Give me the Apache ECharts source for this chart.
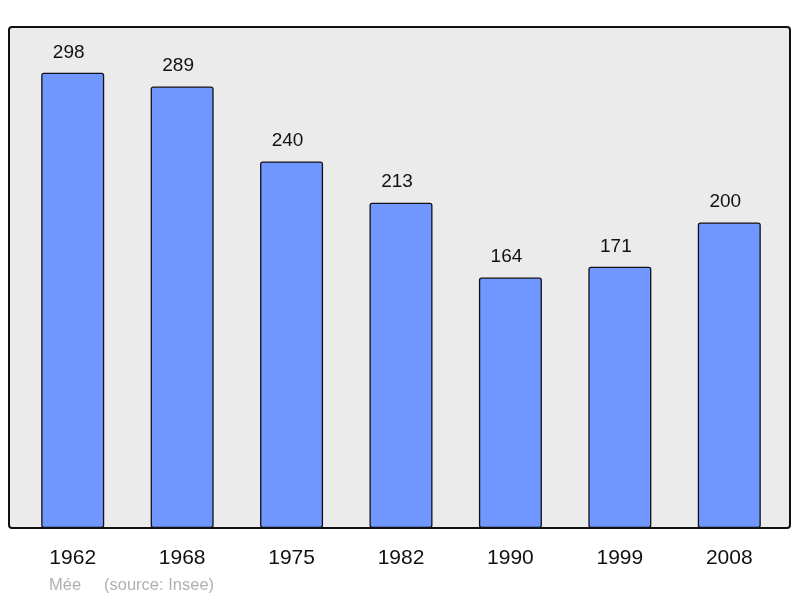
<!DOCTYPE html>
<html>
<head>
<meta charset="utf-8">
<script src="https://cdn.jsdelivr.net/npm/echarts@6/dist/echarts.min.js"></script>
<style>
  html, body { margin: 0; padding: 0; background: #fff; }
  #main { width: 800px; height: 598px; }
</style>
</head>
<body>
<div id="main"></div>
<script>
const years = ['1962', '1968', '1975', '1982', '1990', '1999', '2008'];
const population = [298, 289, 240, 213, 164, 171, 200];
const footer = 'Mée     (source: Insee)';

const chart = echarts.init(document.getElementById('main'));
chart.setOption({
  animation: false,
  textStyle: { fontFamily: 'Liberation Sans' },
  graphic: [
    {
      type: 'rect',
      z: -10,
      shape: { x: 9, y: 27, width: 781, height: 501, r: 3 },
      style: { fill: '#ebebeb', stroke: '#111', lineWidth: 2 }
    },
    {
      type: 'text',
      left: 49,
      top: 577,
      style: { text: footer, fill: '#b0b0b0', font: '16.5px "Liberation Sans"' }
    }
  ],
  grid: { left: 18, width: 766, top: 27, bottom: 70 },
  xAxis: {
    type: 'category',
    data: years,
    axisLine: { show: false },
    axisTick: { show: false },
    axisLabel: { color: '#111', fontSize: 21, margin: 20 }
  },
  yAxis: {
    type: 'value',
    min: 0,
    max: 328,
    show: false
  },
  series: [{
    type: 'bar',
    data: population,
    barWidth: 63,
    itemStyle: {
      color: '#7096ff',
      borderColor: '#111',
      borderWidth: 1.3,
      borderRadius: 2
    },
    label: {
      show: true,
      position: 'top',
      distance: 11,
      offset: [-4, 0],
      color: '#111',
      fontSize: 19
    }
  }]
});
</script>
</body>
</html>
